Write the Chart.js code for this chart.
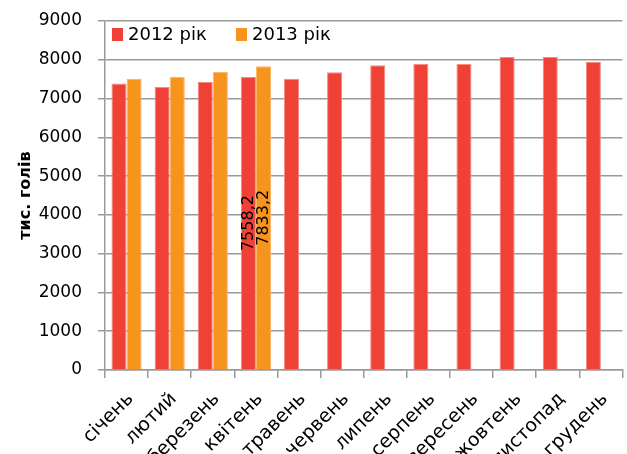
<!DOCTYPE html>
<html>
<head>
<meta charset="utf-8">
<script src="https://cdn.jsdelivr.net/npm/chart.js@4"></script>
<style>
  html, body { margin: 0; padding: 0; background: #fff; }
  #wrap { width: 627px; height: 454px; }
</style>
</head>
<body>
<div id="wrap"><canvas id="livestockChart" width="627" height="454"></canvas></div>
<script>
// поголів'я по місяцях, тис. голів
const months = ["січень", "лютий", "березень", "квітень", "травень", "червень",
                "липень", "серпень", "вересень", "жовтень", "листопад", "грудень"];
const values2012 = [7390, 7300, 7430, 7558.2, 7510, 7680, 7860, 7900, 7900, 8070, 8070, 7940];
const values2013 = [7510, 7560, 7690, 7833.2, null, null, null, null, null, null, null, null];
const yTicks = [0, 1000, 2000, 3000, 4000, 5000, 6000, 7000, 8000, 9000];
// підписані значення: [набір, індекс місяця]
const labelled = [[0, 3], [1, 3]];

const FONT = "'DejaVu Sans', sans-serif";
const GRID = "#9a9a9a";

// вертикальні підписи значень усередині стовпців
const valueLabels = {
    id: "valueLabels",
    afterDatasetsDraw(chart) {
        const ctx = chart.ctx;
        ctx.save();
        ctx.font = "16px " + FONT;
        ctx.fillStyle = "#000";
        ctx.textAlign = "center";
        ctx.textBaseline = "middle";
        labelled.forEach(([ds, idx]) => {
            const bar = chart.getDatasetMeta(ds).data[idx];
            const v = chart.data.datasets[ds].data[idx];
            const cy = (bar.y + bar.base) / 2;
            ctx.save();
            ctx.translate(bar.x, cy);
            ctx.rotate(-Math.PI / 2);
            ctx.fillText(v.toFixed(1).replace(".", ","), 0, 0);
            ctx.restore();
        });
        ctx.restore();
    }
};

// легенда в один рядок у верхньому лівому куті області графіка
const inlineLegend = {
    id: "inlineLegend",
    afterDraw(chart) {
        const ctx = chart.ctx;
        const area = chart.chartArea;
        let x = area.left + 7;
        const y = area.top + 14;
        ctx.save();
        ctx.font = "18px " + FONT;
        ctx.textBaseline = "middle";
        ctx.textAlign = "left";
        chart.data.datasets.forEach(ds => {
            ctx.fillStyle = ds.backgroundColor;
            ctx.fillRect(x, y - 7, 11, 13);
            ctx.fillStyle = "#000";
            ctx.fillText(ds.label, x + 16, y);
            x += 124;
        });
        ctx.restore();
    }
};

const ctx = document.getElementById("livestockChart").getContext("2d");
const chart = new Chart(ctx, {
    type: "bar",
    data: {
        labels: months,
        datasets: [{
            label: "2012 рік",
            data: values2012,
            backgroundColor: "#ef4136",
            borderColor: "#f58a80",
            borderWidth: { left: 1, right: 1, top: 1, bottom: 0 },
            categoryPercentage: 0.7,
            barPercentage: 1.0
        }, {
            label: "2013 рік",
            data: values2013,
            backgroundColor: "#f7941e",
            borderColor: "#f9b565",
            borderWidth: { left: 1, right: 1, top: 1, bottom: 0 },
            categoryPercentage: 0.7,
            barPercentage: 1.0
        }]
    },
    options: {
        responsive: false,
        animation: false,
        layout: { padding: { top: 21, right: 0, left: 16, bottom: 0 } },
        plugins: {
            legend: { display: false },
            tooltip: { enabled: false }
        },
        scales: {
            x: {
                grid: { drawOnChartArea: false, drawTicks: true, tickLength: 8, color: GRID, lineWidth: 1.5 },
                border: { color: GRID, width: 1.5 },
                ticks: {
                    font: { family: FONT, size: 19 },
                    color: "#000",
                    minRotation: 45,
                    maxRotation: 45,
                    autoSkip: false,
                    padding: 10,
                    labelOffset: 4
                },
                afterFit(scale) { scale.height = 84; }
            },
            y: {
                min: 0,
                max: 9000,
                afterBuildTicks(scale) { scale.ticks = yTicks.map(v => ({ value: v })); },
                grid: { color: GRID, lineWidth: 1.5, tickLength: 7 },
                border: { color: GRID, width: 1.5 },
                ticks: {
                    font: { family: FONT, size: 17 },
                    color: "#000",
                    padding: 16,
                    callback: v => String(v)
                },
                title: {
                    display: true,
                    text: "тис. голів",
                    font: { family: FONT, size: 16, weight: "bold" },
                    color: "#000",
                    padding: { top: 0, bottom: 0 }
                },
                afterFit(scale) {
                    scale.width = 89;
                    scale.paddingTop = 0;
                    scale.paddingBottom = 0;
                }
            }
        }
    },
    plugins: [valueLabels, inlineLegend]
});
</script>
</body>
</html>
